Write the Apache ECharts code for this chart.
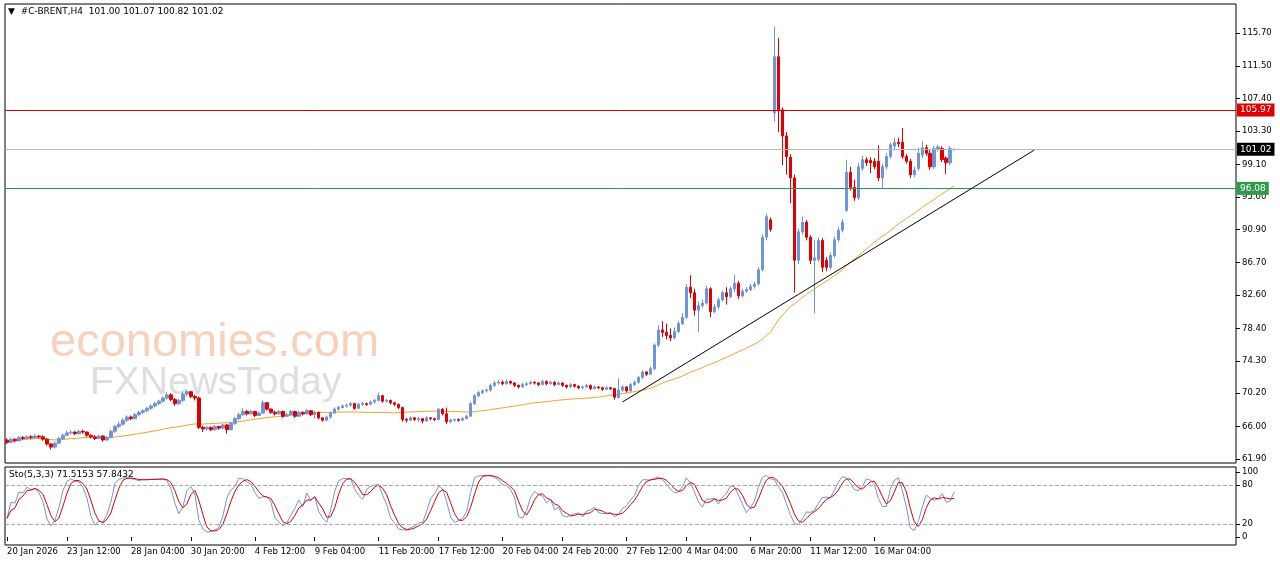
<!DOCTYPE html>
<html><head><meta charset="utf-8">
<script src="https://cdn.jsdelivr.net/npm/echarts@6/dist/echarts.min.js"></script>
<style>html,body{margin:0;padding:0;background:#fff}#c{width:1280px;height:567px}</style>
</head><body><div id="c"></div>
<script>
// candles: [open, close, low, high]
const candles = [
[64.3,64.0,63.8,64.5],[64.0,64.4,63.9,64.6],[64.4,64.2,64.0,64.5],[64.2,64.6,64.1,64.8],[64.6,64.5,64.3,64.8],[64.5,64.7,64.4,64.9],[64.7,64.6,64.4,64.9],[64.6,64.8,64.5,65.0],[64.8,64.7,64.5,64.9],[64.7,64.4,64.2,64.9],
[64.4,63.8,63.6,64.5],[63.8,63.4,63.1,63.9],[63.4,63.9,63.2,64.1],[63.9,64.5,63.8,64.7],[64.5,64.9,64.3,65.1],
[64.9,65.2,64.8,65.5],[65.2,65.3,65.0,65.5],[65.3,65.1,64.9,65.4],[65.1,65.4,65.0,65.6],[65.4,65.3,65.1,65.6],
[65.3,64.9,64.7,65.4],[64.9,64.7,64.5,65.0],[64.7,64.5,64.3,64.9],[64.5,64.8,64.4,65.0],[64.8,64.3,64.1,64.9],[64.3,64.6,64.2,64.8],
[64.6,65.4,64.5,65.6],[65.4,66.0,65.2,66.2],[66.0,66.3,65.8,66.6],[66.3,66.8,66.1,67.0],[66.8,67.2,66.6,67.4],[67.2,67.0,66.8,67.4],[67.0,67.5,66.9,67.7],[67.5,67.8,67.3,68.0],[67.8,68.0,67.6,68.2],
[68.0,68.3,67.8,68.5],[68.3,68.6,68.1,68.8],[68.6,68.9,68.4,69.1],[68.9,69.2,68.7,69.4],[69.2,69.6,69.0,69.8],
[69.6,70.0,69.4,70.4],[70.0,69.4,69.2,70.2],[69.4,68.9,68.6,69.6],[68.9,69.3,68.7,69.5],[69.3,70.1,69.1,70.4],[70.1,70.4,69.8,70.6],[70.4,69.8,69.6,70.5],[69.8,69.6,69.3,70.0],
[69.6,65.9,65.7,69.8],
[65.9,65.7,65.3,66.1],[65.7,65.9,65.5,66.1],[65.9,65.6,65.4,66.0],[65.6,66.0,65.5,66.2],[66.0,65.8,65.6,66.1],[65.8,66.2,65.7,66.3],[66.2,65.6,65.1,66.3],
[65.6,66.4,65.5,66.6],[66.4,67.0,66.2,67.2],[67.0,67.5,66.8,67.7],[67.5,67.9,67.3,68.3],
[67.9,67.6,67.4,68.1],[67.6,67.9,67.5,68.1],[67.9,67.4,67.2,68.0],[67.4,67.7,67.3,67.9],[67.7,69.0,67.6,69.3],
[69.0,68.2,68.0,69.1],[68.2,67.8,67.6,68.3],[67.8,67.6,67.4,68.0],[67.6,67.9,67.5,68.1],
[67.9,67.3,67.1,68.0],[67.3,67.5,67.2,67.7],[67.5,67.9,67.4,68.1],[67.9,67.3,67.1,68.0],[67.3,67.8,67.2,68.0],[67.8,67.6,67.4,67.9],[67.6,68.0,67.5,68.2],[68.0,67.5,67.3,68.1],[67.5,67.8,67.0,68.0],[67.8,67.1,66.9,67.9],[67.1,66.8,66.6,67.2],
[66.8,67.2,66.7,67.4],[67.2,67.7,67.0,67.9],[67.7,68.2,67.6,68.4],[68.2,68.4,68.0,68.6],
[68.4,68.6,68.3,68.8],[68.6,68.7,68.4,68.9],[68.7,68.9,68.5,69.1],[68.9,68.3,68.1,69.0],[68.3,68.8,68.2,69.0],[68.8,68.9,68.6,69.1],[68.9,68.8,68.6,69.0],[68.8,69.1,68.7,69.3],[69.1,69.3,68.9,69.5],
[69.3,69.9,69.2,70.3],[69.9,69.2,69.0,70.0],[69.2,69.3,69.0,69.5],[69.3,69.0,68.8,69.4],[69.0,68.8,68.6,69.1],[68.8,68.4,68.2,68.9],
[68.4,66.9,66.6,68.5],
[66.9,66.8,66.5,67.1],[66.8,67.1,66.7,67.3],[67.1,66.9,66.7,67.2],[66.9,67.0,66.6,67.2],[67.0,66.7,66.4,67.1],[66.7,67.1,66.6,67.3],[67.1,67.0,66.8,67.2],[67.0,66.9,66.7,67.1],
[66.9,68.2,66.8,68.3],[68.2,67.6,67.4,68.3],[67.6,66.6,66.3,68.4],
[66.6,66.8,66.4,67.0],[66.8,66.9,66.6,67.0],[66.9,66.8,66.6,67.0],[66.8,67.0,66.7,67.2],[67.0,67.3,66.9,67.5],
[67.3,68.9,67.2,69.1],[68.9,69.9,68.7,70.1],[69.9,70.3,69.7,70.5],[70.3,70.5,70.1,70.7],[70.5,70.6,70.3,70.8],[70.6,71.2,70.4,71.4],[71.2,71.5,71.0,71.8],
[71.5,71.6,71.3,71.9],[71.6,71.4,71.2,71.8],[71.4,71.7,71.3,71.9],[71.7,71.5,71.3,71.8],[71.5,71.2,71.0,71.6],[71.2,71.0,70.8,71.3],[71.0,71.3,70.9,71.5],[71.3,71.4,71.1,71.6],[71.4,71.6,71.3,71.8],[71.6,71.5,71.3,71.7],[71.5,71.3,71.1,71.6],[71.3,71.7,71.2,71.9],[71.7,71.4,71.2,71.8],[71.4,71.6,71.3,71.8],[71.6,71.3,71.1,71.7],[71.3,71.5,71.2,71.7],
[71.5,71.2,71.0,71.6],[71.2,71.0,70.8,71.3],[71.0,71.3,70.9,71.5],[71.3,71.1,70.9,71.4],[71.1,70.9,70.7,71.2],[70.9,71.0,70.7,71.2],[71.0,71.2,70.9,71.4],[71.2,70.8,70.6,71.3],[70.8,71.0,70.7,71.2],[71.0,70.9,70.7,71.1],[70.9,70.7,70.5,71.0],[70.7,70.9,70.6,71.1],[70.9,70.8,70.6,71.0],[70.8,69.7,69.4,70.9],
[69.7,70.6,69.5,72.1],[70.6,71.0,70.4,71.2],[71.0,70.5,70.3,71.1],[70.5,71.3,70.4,71.5],[71.3,71.6,71.1,71.8],[71.6,72.2,71.4,72.4],[72.2,72.9,72.0,73.1],[72.9,72.6,72.4,73.0],[72.6,73.3,72.5,73.6],
[73.3,76.3,73.1,76.5],[76.3,78.2,76.0,78.8],[78.2,77.9,77.3,79.3],[77.9,77.5,77.0,79.0],[77.5,77.2,76.8,78.4],[77.2,78.0,77.0,78.5],[78.0,79.0,77.8,79.3],[79.0,79.8,78.8,80.3],
[79.8,83.6,79.6,84.0],[83.6,82.9,82.2,85.1],[82.9,80.7,80.0,83.4],[80.7,81.3,77.9,81.8],[81.3,81.6,81.0,82.0],[81.6,83.4,81.4,83.8],[83.4,80.5,79.8,83.6],[80.5,81.1,80.3,81.5],[81.1,82.0,80.8,82.3],[82.0,82.9,81.8,83.2],[82.9,82.4,81.4,83.6],[82.4,83.4,82.2,83.7],[83.4,84.1,83.0,85.2],[84.1,82.5,82.1,84.4],[82.5,83.1,82.3,83.4],[83.1,83.3,82.9,83.6],[83.3,83.7,83.1,84.0],[83.7,84.0,83.4,84.3],[84.0,85.8,83.8,86.1],
[85.8,89.9,85.6,90.3],[89.9,92.5,89.5,92.9],[92.1,90.9,90.6,92.4],
[105.6,112.7,104.5,116.5],[112.7,106.0,103.2,115.1],[106.0,102.7,99.0,106.3],[102.7,100.1,97.8,103.2],[100.0,97.4,94.2,100.4],[97.4,87.0,82.9,97.8],[87.0,90.6,86.5,91.0],[90.6,91.8,90.2,92.5],[91.8,89.9,89.5,92.1],[89.9,87.0,86.5,90.2],[87.0,87.3,80.3,89.5],[87.1,89.5,86.8,89.9],[89.5,86.1,85.5,89.8],[87.0,86.1,85.6,87.4],[86.1,87.6,85.8,88.0],[87.6,89.6,87.3,90.0],[89.6,90.8,89.3,91.2],[90.8,91.8,90.5,92.2],
[93.3,98.1,93.1,99.7],[98.1,96.2,95.8,98.8],[96.2,94.9,94.5,97.2],[94.9,98.8,94.6,99.3],[98.6,99.7,98.3,100.2],[99.7,99.3,98.9,100.0],[99.6,99.3,98.0,100.0],[99.5,98.8,98.5,99.9],[99.5,97.4,97.0,101.5],[97.4,98.8,96.1,99.2],[98.8,100.1,98.5,100.5],[100.1,101.6,99.8,101.9],[101.4,101.9,101.0,102.5],[101.9,101.7,101.3,102.5],[101.9,100.1,99.8,103.7],[100.1,99.5,99.2,100.4],[99.5,97.8,97.4,99.8],[97.8,98.4,97.5,98.8],[98.6,100.5,98.3,101.2],[100.3,101.2,99.9,102.0],[101.2,100.5,100.2,101.6],[100.5,98.8,98.4,100.9],[98.8,101.1,98.5,101.4],[101.1,101.3,100.7,101.6],[101.1,99.7,99.4,101.4],[99.9,99.3,97.9,100.1],[99.3,101.1,99.0,101.4],[101.0,101.02,100.82,101.07]
];
const priceTicks = [61.9,66.0,70.2,74.3,78.4,82.6,86.7,90.9,95.0,99.1,103.3,107.4,111.5,115.7];
const levels = [{v:105.97,c:'#d40000',lbl:'#e00000'},{v:101.02,c:'#b8b8b8',lbl:'#000000'},{v:96.08,c:'#2e9b4a',lbl:'#2e9b4a'}];
const trendLine = [[154,69.1],[257,100.9]];
const timeTickIdx = [0,15,31,46,62,77,93,108,124,139,155,170,186,201,217];
const timeTickLbl = ['20 Jan 2026','23 Jan 12:00','28 Jan 04:00','30 Jan 20:00','4 Feb 12:00','9 Feb 04:00','11 Feb 20:00','17 Feb 12:00','20 Feb 04:00','24 Feb 20:00','27 Feb 12:00','4 Mar 04:00','6 Mar 20:00','11 Mar 12:00','16 Mar 04:00'];
const stochTicks = [0,20,80,100];
const nSlots = 308, maPeriod = 50;

const cats = Array.from({length:nSlots},(_,i)=>i);
const closes = candles.map(c=>c[1]);
const ma = closes.map((_,i)=>{const s=Math.max(0,i-maPeriod+1);let t=0;for(let j=s;j<=i;j++)t+=closes[j];return +(t/(i-s+1)).toFixed(3);});
// Stochastic 5,3,3
const raw=[],K=[],D=[];
candles.forEach((c,i)=>{const s=Math.max(0,i-4);let hh=-1e9,ll=1e9;for(let j=s;j<=i;j++){hh=Math.max(hh,candles[j][3]);ll=Math.min(ll,candles[j][2]);}raw.push([c[1]-ll,hh-ll]);});
raw.forEach((r,i)=>{const s=Math.max(0,i-2);let a=0,b=0;for(let j=s;j<=i;j++){a+=raw[j][0];b+=raw[j][1];}K.push(b?+(100*a/b).toFixed(2):50);});
K.forEach((k,i)=>{const s=Math.max(0,i-2);let a=0;for(let j=s;j<=i;j++)a+=K[j];D.push(+(a/(i-s+1)).toFixed(2));});

const lblFont = {fontFamily:'DejaVu Sans',fontSize:8.5,color:'#000'};
const chart = echarts.init(document.getElementById('c'));
chart.setOption({
  animation:false,
  backgroundColor:'#fff',
  grid:[{left:5,right:44,top:4,height:459,show:true,borderColor:'#000',borderWidth:1},
        {left:5,right:44,top:472,height:65}],
  xAxis:[
    {type:'category',data:cats,gridIndex:0,boundaryGap:true,axisLine:{show:false},axisTick:{show:false},axisLabel:{show:false}},
    {type:'category',data:cats,gridIndex:1,boundaryGap:true,axisLine:{show:false},
     axisTick:{show:true,alignWithLabel:true,interval:(i)=>timeTickIdx.includes(i),length:4,lineStyle:{color:'#000'}},
     axisLabel:{show:true,interval:(i)=>timeTickIdx.includes(i),formatter:(v)=>timeTickLbl[timeTickIdx.indexOf(+v)]||'',align:'left',margin:10,...lblFont}}
  ],
  yAxis:[
    {type:'value',gridIndex:0,position:'right',min:61.395,max:119.36,splitLine:{show:false},axisLine:{show:false},
     axisTick:{show:true,customValues:priceTicks,length:4,lineStyle:{color:'#000'}},
     axisLabel:{customValues:priceTicks,formatter:(v)=>v.toFixed(2),margin:6,...lblFont}},
    {type:'value',gridIndex:1,position:'right',min:0,max:100,splitLine:{show:false},axisLine:{show:false},
     axisTick:{show:true,customValues:stochTicks,length:4,lineStyle:{color:'#000'}},
     axisLabel:{customValues:stochTicks,margin:6,...lblFont}}
  ],
  graphic:[
    {type:'rect',shape:{x:5,y:467,width:1231,height:78},style:{fill:'none',stroke:'#000',lineWidth:1},z:0},
    {type:'text',left:50,top:320,style:{text:'economies.com',fontFamily:'Liberation Sans',fontSize:47,fill:'#f6d2bd'},z:0},
    {type:'text',left:90,top:364,style:{text:'FXNewsToday',fontFamily:'Liberation Sans',fontSize:39,fill:'#dedede'},z:0},
    {type:'text',left:8,top:7,style:{text:'▼  #C-BRENT,H4  101.00 101.07 100.82 101.02',fontFamily:'DejaVu Sans',fontSize:9,fill:'#000'},z:10},
    {type:'text',left:9,top:470,style:{text:'Sto(5,3,3) 71.5153 57.8432',fontFamily:'DejaVu Sans',fontSize:9,fill:'#000'},z:10}
  ],
  series:[
    {type:'candlestick',xAxisIndex:0,yAxisIndex:0,data:candles.map(c=>[c[0],c[1],c[2],c[3]]),barWidth:3,
     itemStyle:{color:'#6f95d8',color0:'#e00000',borderColor:'#6f95d8',borderColor0:'#e00000',borderWidth:1},
     markLine:{symbol:'none',silent:true,animation:false,
       data:levels.map(l=>({yAxis:l.v,lineStyle:{color:l.c,width:1,type:'solid'},
         label:{show:true,position:'end',formatter:l.v.toFixed(2),backgroundColor:l.lbl,color:'#fff',padding:[2,3],fontSize:9,fontFamily:'DejaVu Sans',distance:1}}))
       .concat([[{coord:[trendLine[0][0],trendLine[0][1]],lineStyle:{color:'#000',width:1,type:'solid'},label:{show:false}},{coord:[trendLine[1][0],trendLine[1][1]]}]])}},
    {type:'line',xAxisIndex:0,yAxisIndex:0,data:ma,showSymbol:false,lineStyle:{color:'#f0a030',width:1},z:1},
    {type:'line',xAxisIndex:1,yAxisIndex:1,data:K,showSymbol:false,lineStyle:{color:'#6f95d8',width:1},
     markLine:{symbol:'none',silent:true,data:[{yAxis:20},{yAxis:80}],lineStyle:{color:'#aaa',type:'dashed',width:1},label:{show:false}}},
    {type:'line',xAxisIndex:1,yAxisIndex:1,data:D,showSymbol:false,lineStyle:{color:'#e00000',width:1}}
  ]
});
</script></body></html>
